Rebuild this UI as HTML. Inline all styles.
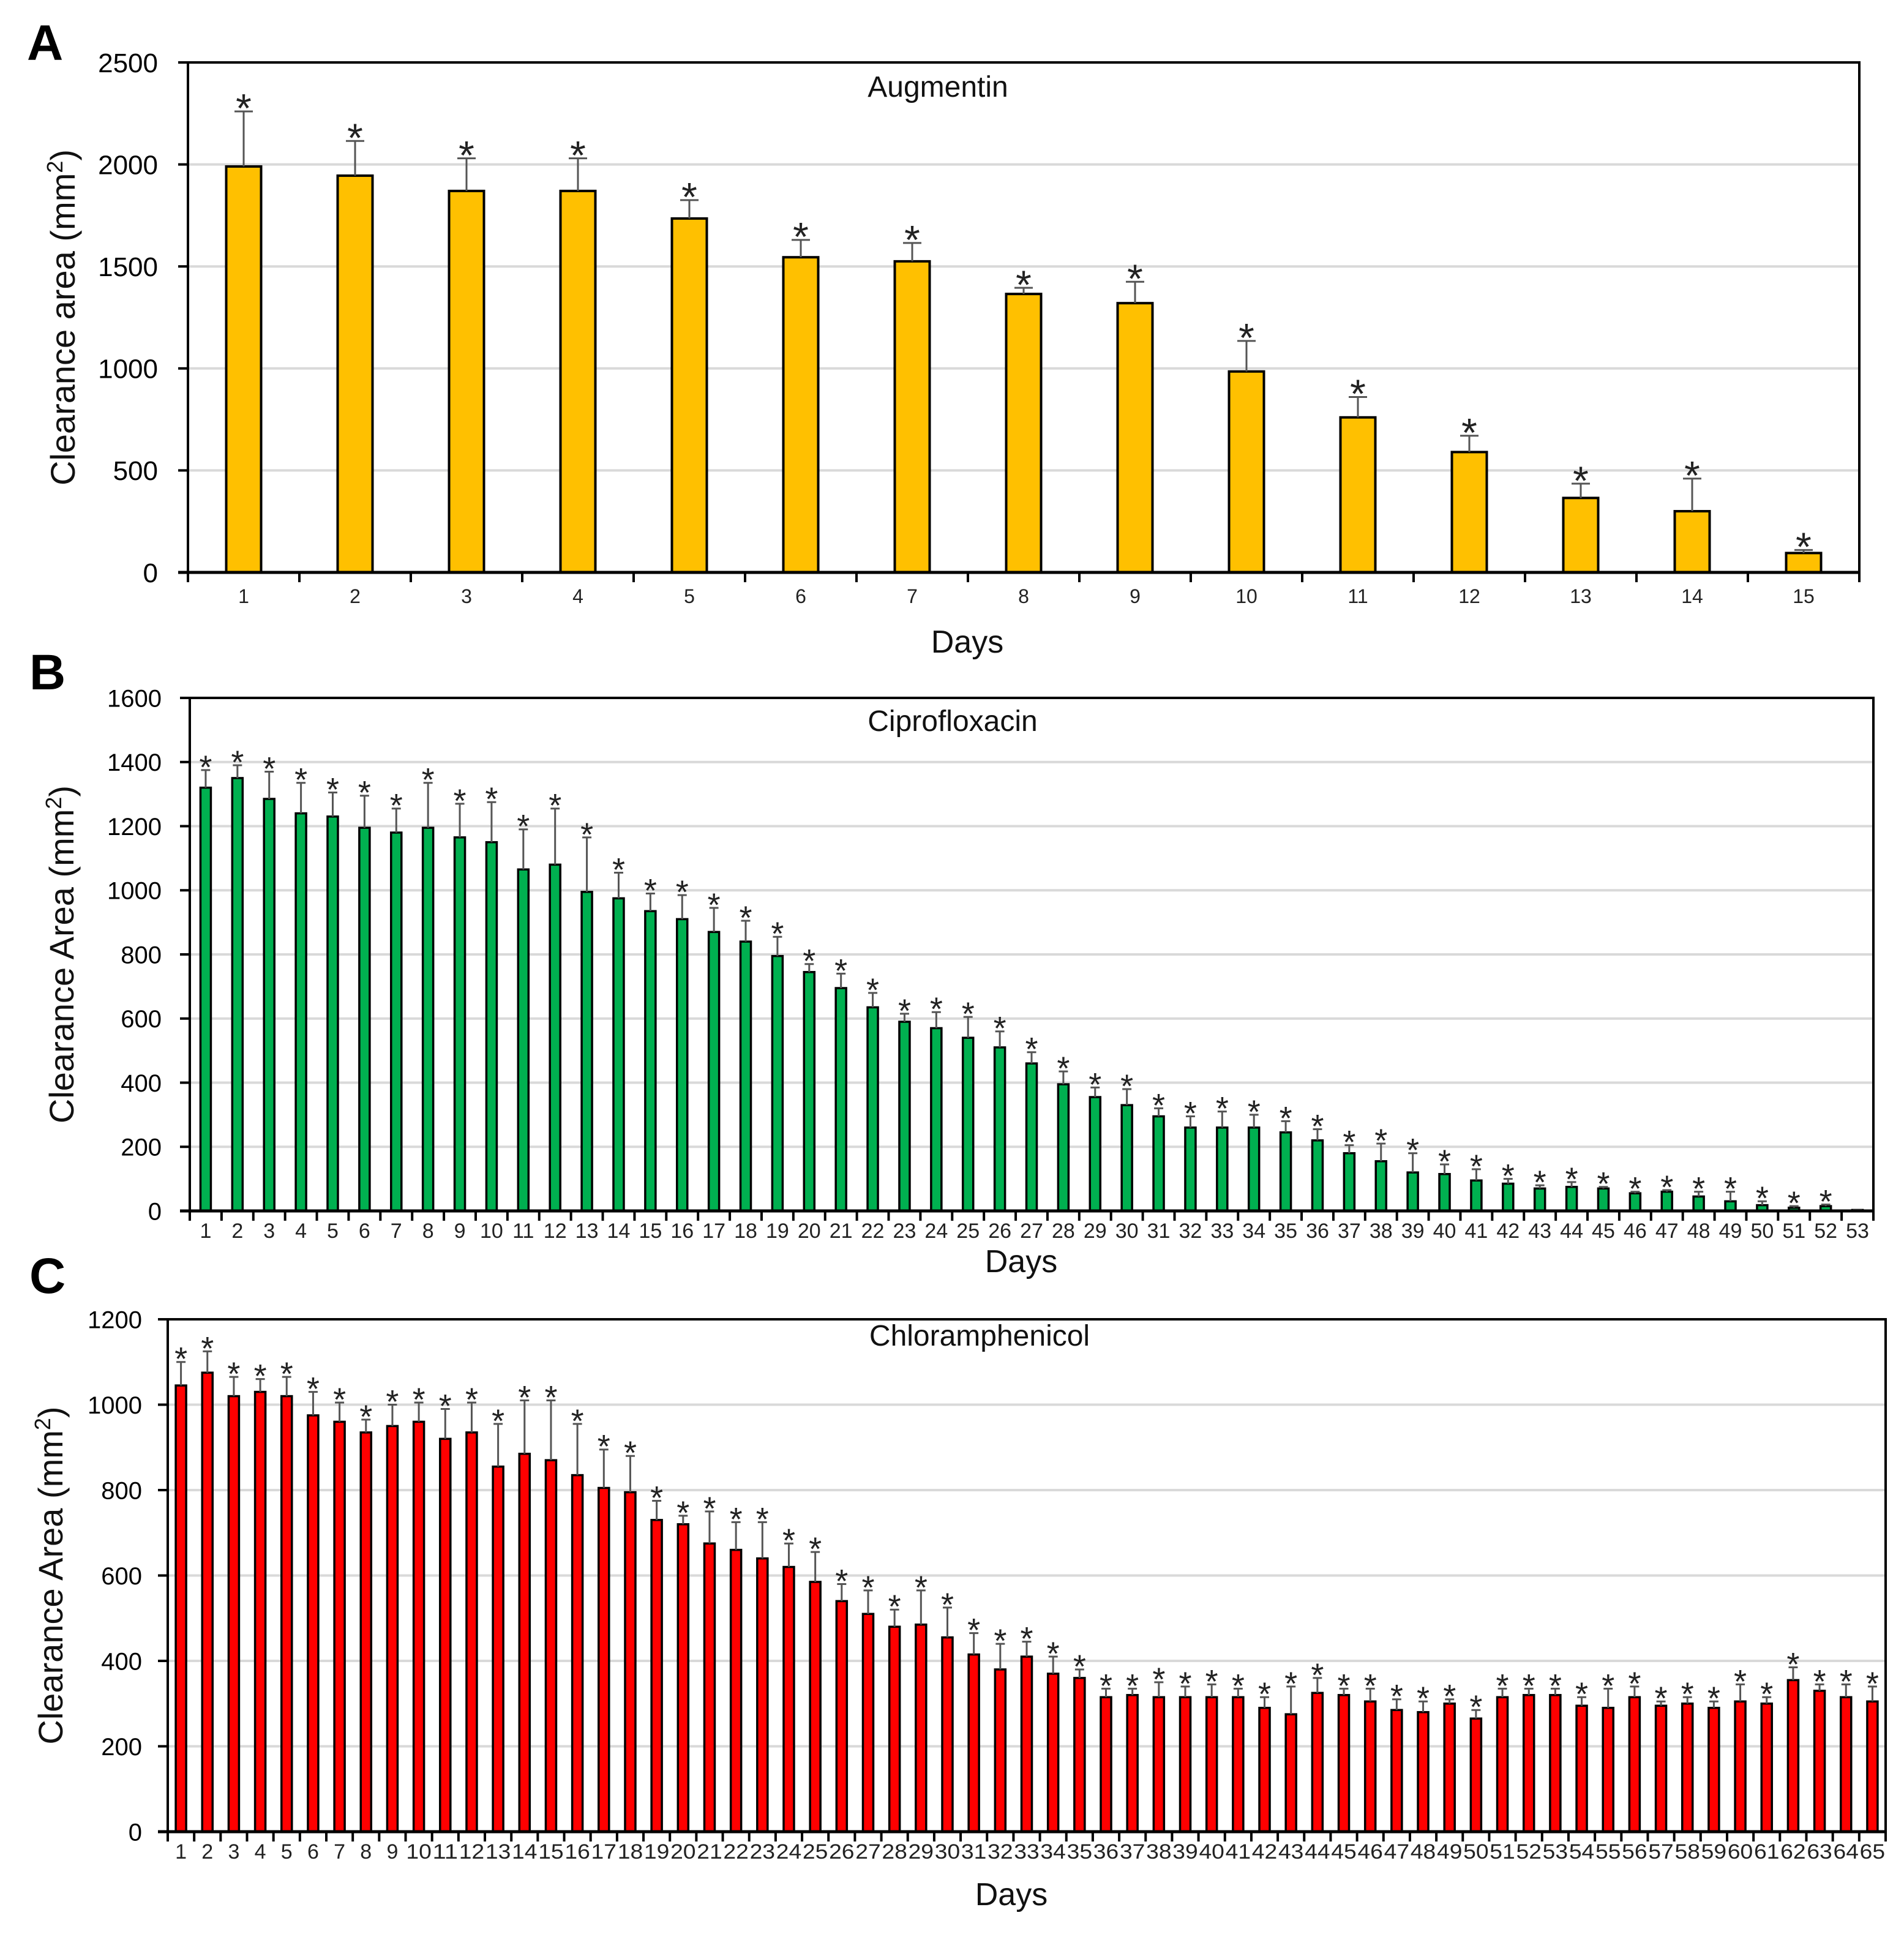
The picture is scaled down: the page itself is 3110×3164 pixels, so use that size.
<!DOCTYPE html>
<html><head><meta charset="utf-8"><style>
html,body{margin:0;padding:0;background:#fff;}
svg{display:block;font-family:"Liberation Sans",Arial,sans-serif;}
</style></head><body>
<svg id="fig" xmlns="http://www.w3.org/2000/svg" width="3110" height="3164" viewBox="0 0 3110 3164">
<rect width="3110" height="3164" fill="#fff"/>
<g id="gA"></g>
<g id="gB"></g>
<g id="gC"></g>
</svg>
<script>
// Panel A data
const daysA = [1,2,3,4,5,6,7,8,9,10,11,12,13,14,15];
const valuesA = [1990,1945,1870,1870,1735,1545,1525,1365,1320,985,760,590,365,300,95];
const errTopA = [2260,2115,2030,2030,1825,1630,1615,1395,1425,1135,860,670,435,460,110];
const yTicksA = [0,500,1000,1500,2000,2500];
// Panel B data
const daysB = Array.from({length:53},(_, i)=>i+1);
const valuesB = [1320,1350,1285,1240,1230,1195,1180,1195,1165,1150,1065,1080,995,975,935,910,870,840,795,745,695,635,590,570,540,510,460,395,355,330,295,260,260,260,245,220,180,155,120,115,95,85,70,75,70,55,60,45,30,18,10,15,3];
const errTopB = [1375,1390,1370,1335,1305,1295,1255,1335,1270,1275,1190,1255,1165,1055,990,985,945,905,855,770,740,680,615,620,605,560,495,435,385,380,320,295,310,300,280,255,205,210,180,145,130,100,80,90,75,60,65,60,60,30,15,20,3];
const yTicksB = [0,200,400,600,800,1000,1200,1400,1600];
// Panel C data
const daysC = Array.from({length:65},(_, i)=>i+1);
const valuesC = [1045,1075,1020,1030,1020,975,960,935,950,960,920,935,855,885,870,835,805,795,730,720,675,660,640,620,585,540,510,480,485,455,415,380,410,370,360,315,320,315,315,315,315,290,275,325,320,305,285,280,300,265,315,320,320,295,290,315,295,300,290,305,300,355,330,315,305];
const errTopC = [1100,1125,1065,1060,1065,1030,1005,965,1000,1005,990,1005,955,1010,1010,955,895,880,775,740,750,725,725,675,655,580,565,520,565,525,465,440,445,410,380,335,335,350,340,345,335,315,340,360,335,335,310,305,310,285,335,335,335,315,335,340,305,315,305,345,315,385,345,345,340];
const yTicksC = [0,200,400,600,800,1000,1200];

const NS = "http://www.w3.org/2000/svg";
function mk(parent, tag, attrs, text){
  const e = document.createElementNS(NS, tag);
  for (const k in attrs) e.setAttribute(k, attrs[k]);
  if (text !== undefined) e.textContent = text;
  parent.appendChild(e);
  return e;
}

function drawPanel(g, cfg, days, values, errTop, yTicks){
  const {x0,x1,y0,y1,ymax} = cfg;
  const n = days.length;
  const cw = (x1-x0)/n;
  const ys = v => y0 - (v/ymax)*(y0-y1);
  const xc = i => x0 + (i+0.5)*cw;
  yTicks.forEach(t=>{
    const y = ys(t);
    if (t>0 && t<ymax){
      const gl = mk(g,'line',{x1:x0,x2:x1,y1:y,y2:y,stroke:'#d9d9d9','stroke-width':4});
      
      
    }
    const tk = mk(g,'line',{x1:x0-cfg.tickLen,x2:x0,y1:y,y2:y,stroke:'#000','stroke-width':4});
    
    
    const lb = mk(g,'text',{x:cfg.yLabelX,y:y+cfg.yFont*0.36,'font-size':cfg.yFont,'text-anchor':'end',fill:'#000'},String(t));
    
    
  });
  days.forEach((d,i)=>{
    const cx = xc(i);
    const top = ys(values[i]);
    const bar = mk(g,'rect',{x:cx-cfg.barW/2,y:top,width:cfg.barW,height:Math.max(0,y0-top),fill:cfg.color,stroke:'#000','stroke-width':cfg.barStroke});
    
    
    const et = ys(errTop[i]);
    const eb = mk(g,'path',{d:`M${cx},${top} V${et} M${cx-cfg.capW/2},${et} H${cx+cfg.capW/2}`,stroke:'#555','stroke-width':cfg.errStroke,fill:'none'});
    
    
    if (d !== 53 || cfg.starLast){
      const st = mk(g,'text',{x:cx,y:et - 6 + cfg.starFont*0.36,'font-size':cfg.starFont,'text-anchor':'middle',fill:'#222'},'*');
      
      
    }
    const lab = mk(g,'text',{x:cx,y:y0+cfg.xLabOff,'font-size':cfg.xFont,'text-anchor':'middle',fill:'#222'},String(d));
    if (cfg.xSquash && d>=10) { lab.setAttribute('textLength', cw*0.96); lab.setAttribute('lengthAdjust','spacingAndGlyphs'); }
    
    
  });
  for (let i=0;i<=n;i++){
    const x = x0+i*cw;
    const t = mk(g,'line',{x1:x,x2:x,y1:y0,y2:y0+16,stroke:'#000','stroke-width':4});
    
    
  }
  const fr = mk(g,'rect',{x:x0,y:y1,width:x1-x0,height:y0-y1,fill:'none',stroke:'#000','stroke-width':4});
  
  
  const ax = mk(g,'line',{x1:x0-cfg.tickLen,x2:x1,y1:y0,y2:y0,stroke:'#000','stroke-width':5});
  
  
  const tt = mk(g,'text',{x:cfg.titleX,y:cfg.titleY,'font-size':48,'text-anchor':'middle',fill:'#111'},cfg.title);
  
  
  const xt = mk(g,'text',{x:cfg.daysX,y:cfg.daysY,'font-size':52,'text-anchor':'middle',fill:'#111'},'Days');
  
  
  const yt = mk(g,'text',{x:0,y:0,'font-size':56,'text-anchor':'middle',fill:'#111',transform:`translate(${cfg.yTitleX},${(y0+y1)/2}) rotate(-90)`});
  
  
  mk(yt,'tspan',{},cfg.yTitle+' (mm');
  mk(yt,'tspan',{'font-size':36,dy:-20},'2');
  mk(yt,'tspan',{dy:20},')');
  const pl = mk(g,'text',{x:cfg.letterX,y:cfg.letterY,'font-size':82,'font-weight':'bold',fill:'#000'},cfg.letter);
  
  
}

drawPanel(document.getElementById('gA'),{x0:307,x1:3037,y0:935,y1:102,ymax:2500,tickLen:16,yLabelX:258,yFont:44,
  color:'#FFC000',barW:57,barStroke:4,capW:30,errStroke:3,starFont:66,xFont:32,xLabOff:50,
  title:'Augmentin',titleX:1532,titleY:158,daysX:1580,daysY:1066,yTitle:'Clearance area',yTitleX:122,letter:'A',letterX:44,letterY:98},
  daysA,valuesA,errTopA,yTicksA);
drawPanel(document.getElementById('gB'),{x0:310,x1:3060,y0:1978,y1:1140,ymax:1600,tickLen:16,yLabelX:264,yFont:40,
  color:'#00B050',barW:17,barStroke:3.5,capW:15,errStroke:3,starFont:54,xFont:34,xLabOff:44,starLast:false,
  title:'Ciprofloxacin',titleX:1556,titleY:1194,daysX:1668,daysY:2078,yTitle:'Clearance Area',yTitleX:120,letter:'B',letterX:48,letterY:1126},
  daysB,valuesB,errTopB,yTicksB);
drawPanel(document.getElementById('gC'),{x0:274,x1:3080,y0:2992,y1:2155,ymax:1200,tickLen:16,yLabelX:232,yFont:40,
  color:'#FF0000',barW:17,barStroke:3.5,capW:15,errStroke:3,starFont:54,xFont:34,xLabOff:44,xSquash:true,starLast:true,
  title:'Chloramphenicol',titleX:1600,titleY:2198,daysX:1652,daysY:3112,yTitle:'Clearance Area',yTitleX:102,letter:'C',letterX:48,letterY:2112},
  daysC,valuesC,errTopC,yTicksC);
</script>
</body></html>
